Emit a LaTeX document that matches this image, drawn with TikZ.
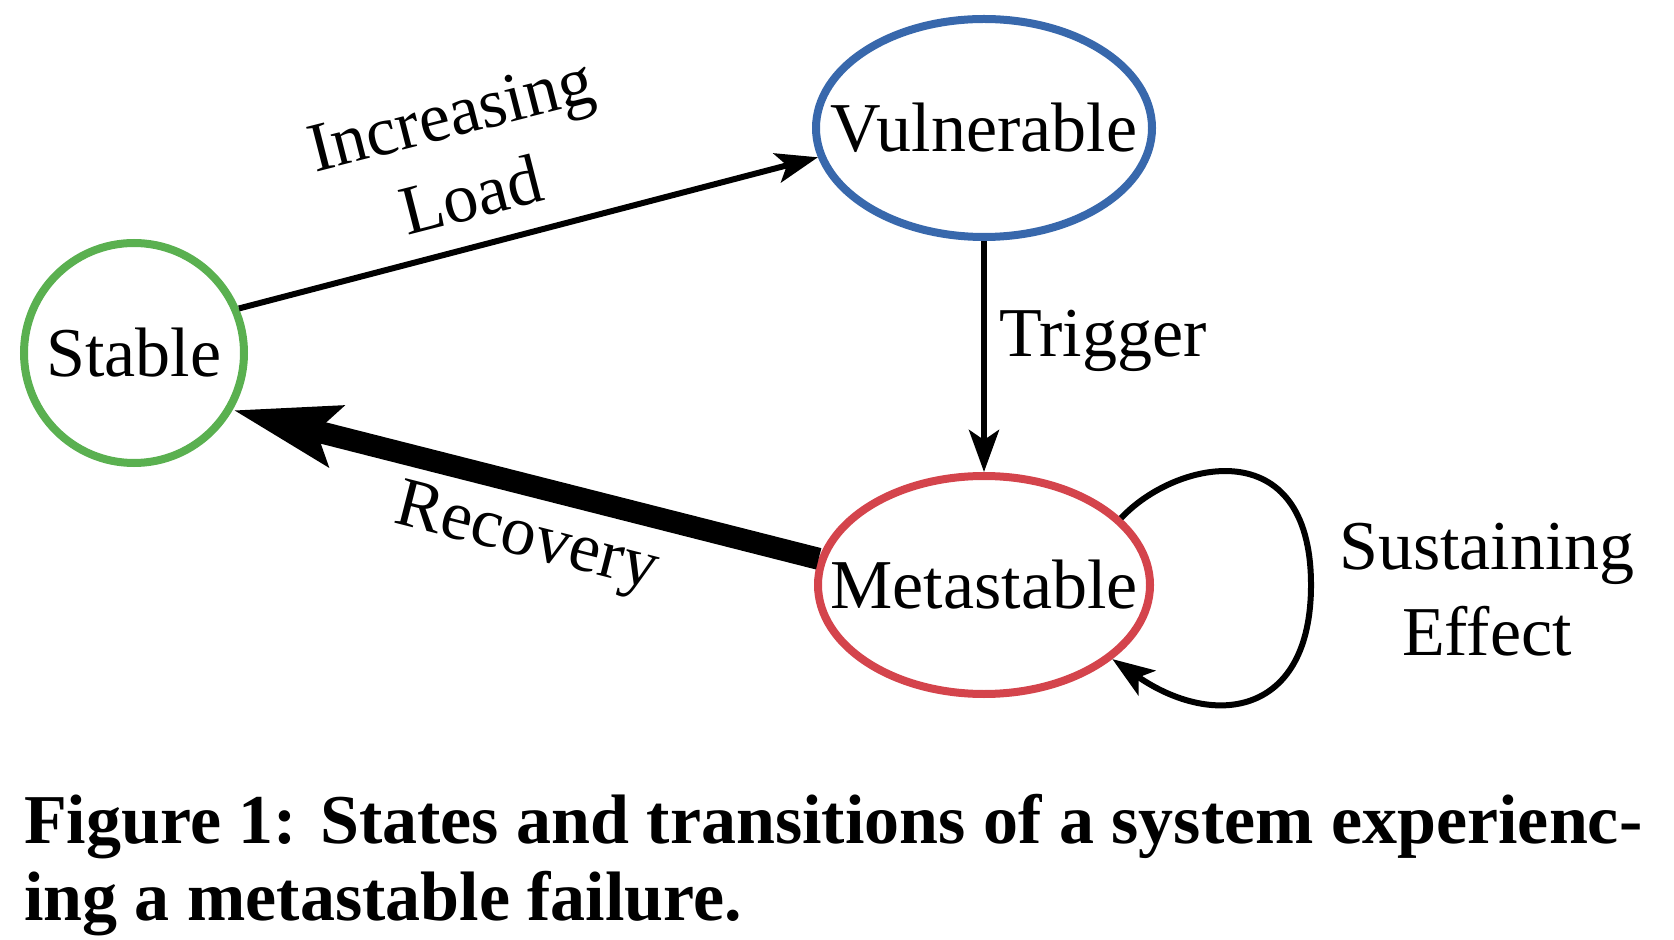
\documentclass[tikz,border=0pt]{standalone}
\usepackage{fontspec}
\setmainfont{Liberation Serif}
\usetikzlibrary{arrows.meta,shapes.geometric,positioning}
\definecolor{stablegreen}{RGB}{90,176,80}
\definecolor{vulblue}{RGB}{56,104,172}
\definecolor{metared}{RGB}{212,68,76}
\tikzset{
    state/.style = {draw, line width=4pt, inner sep=0pt},
    trans/.style = {-{Stealth[length=21pt, width=15pt, inset=5pt]}, line width=3pt},
    heavy/.style = {-{Stealth[length=52pt, width=30pt, inset=9pt]}, line width=11pt},
}
\begin{document}
\begin{tikzpicture}[x=0.5pt, y=-0.5pt, font=\fontsize{35}{42}\selectfont]
\useasboundingbox (0,0) rectangle (1674,940);
 \node (stable) [state, draw=stablegreen, circle, minimum size=110pt,
   label={[name=stabletxt]center:Stable}] at (134,353) {};
 \node (vul) [state, draw=vulblue, ellipse, minimum width=168pt, minimum height=109pt,
   label={[name=vultxt]center:Vulnerable}] at (984,128) {};
 \node (meta) [state, draw=metared, ellipse, minimum width=166pt, minimum height=109pt,
   label={[name=metatxt]center:Metastable}] at (984,585) {};

 \node (load) [align=center, rotate=14.3] at (461,155) {Increasing\\Load};
 \node (trig) at (1103,341) {Trigger};
 \node (rec) [rotate=-14.3] at (526,541) {Recovery};
 \node (sust) [align=center, font=\fontsize{35}{43}\selectfont] at (1487,590) {Sustaining\\Effect};

\draw[trans] (stable.23) -- (vul.190);
\draw[trans] (vul.south) -- (meta.north);
\draw[heavy] (meta.171) -- (stable.-30);
\draw[trans] (meta.26) .. controls (1175,460) and (1311,430) .. (1311,585)
   .. controls (1311,715) and (1215,730) .. (meta.-30);

 \node (cap) [anchor=base west, align=left, font=\fontsize{35}{38.5}\selectfont\bfseries] at (17,920)
   {Figure 1: States and transitions of a system experienc-\\ing a metastable failure.};
\end{tikzpicture}
\end{document}
